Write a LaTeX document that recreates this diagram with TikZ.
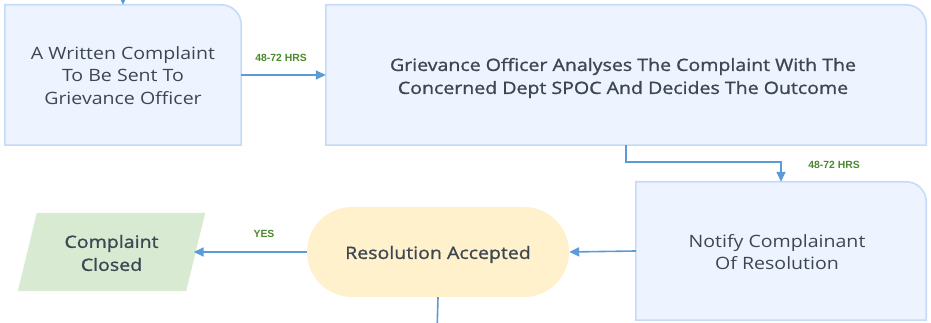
\documentclass[tikz,border=0pt]{standalone}
\usepackage{fontspec}
\setmainfont[FakeStretch=1.15]{Open Sans}
\newfontfamily\medfont[FakeStretch=1.15,FakeBold=1.2]{Open Sans}
\newfontfamily\lblfont{Liberation Sans}
\usetikzlibrary{arrows.meta,shapes.misc}
\definecolor{boxfill}{HTML}{EEF4FF}
\definecolor{boxline}{HTML}{C5DBF7}
\definecolor{arrcol}{HTML}{5A9BD8}
\definecolor{txtcol}{HTML}{3D4752}
\definecolor{lblcol}{HTML}{4A8A2C}
\definecolor{yelfill}{HTML}{FFF1CC}
\definecolor{grnfill}{HTML}{D9EAD3}
\tikzset{
  x=1pt,y=1pt,
  boxnode/.style={minimum width=#1, inner sep=0pt},
  boxshape/.style={fill=boxfill, draw=boxline, line width=1.6pt},
  boxtext/.style={text=txtcol, align=center, font=\fontsize{17}{22.5}\selectfont},
  medtext/.style={text=txtcol, align=center, font=\medfont\fontsize{17}{23}\selectfont},
  arr/.style={draw=arrcol, line width=1.6pt, -{Triangle[length=10pt,width=9pt]}},
  plain/.style={draw=arrcol, line width=1.6pt},
  lbl/.style={text=lblcol, font=\lblfont\bfseries\fontsize{10.4}{12}\selectfont},
}
\begin{document}
\begin{tikzpicture}
\useasboundingbox (0,0) rectangle (931,323);
% box 1
\node[boxnode=236pt, minimum height=140pt] (b1) at (123,248) {};
\path[boxshape] (b1.south west) -- (b1.north west) -- ([xshift=-20pt]b1.north east) arc[start angle=90,end angle=0,radius=20pt] -- (b1.south east) -- cycle;
\node[boxtext] at ([yshift=-0.5pt]b1.center) {A Written Complaint\\To Be Sent To\\Grievance Officer};
% box 2
\node[boxnode=600pt, minimum height=140pt] (b2) at (626,248) {};
\path[boxshape] (b2.south west) -- (b2.north west) -- ([xshift=-20pt]b2.north east) arc[start angle=90,end angle=0,radius=20pt] -- (b2.south east) -- cycle;
\node[medtext] at ([xshift=-3pt,yshift=-3pt]b2.center) {Grievance Officer Analyses The Complaint With The\\Concerned Dept SPOC And Decides The Outcome};
% box 3
\node[boxnode=290pt, minimum height=138pt] (b3) at (781,72) {};
\path[boxshape] (b3.south west) -- (b3.north west) -- ([xshift=-20pt]b3.north east) arc[start angle=90,end angle=0,radius=20pt] -- (b3.south east) -- cycle;
\node[boxtext] at ([xshift=-4pt,yshift=-1pt]b3.center) {Notify Complainant\\Of Resolution};
% stadium
\node[rounded rectangle, fill=yelfill, minimum width=262pt, minimum height=90pt, inner sep=0pt] (st) at (438,71) {};
\node[medtext] at ([yshift=-2.5pt]st.center) {Resolution Accepted};
% parallelogram
\node[minimum width=168pt, minimum height=78pt, inner sep=0pt] (pc) at (111.5,71) {};
\path[fill=grnfill] ([xshift=-9.5pt]pc.south west) -- ([xshift=9.5pt]pc.north west) -- ([xshift=9.5pt]pc.north east) -- ([xshift=-9.5pt]pc.south east) -- cycle;
\node[medtext] at ([yshift=-1pt]pc.center) {Complaint\\Closed};
% connectors
\coordinate (topin) at (123,340);
\coordinate (botout) at (437,-10);
\draw[arr] (topin) -- (b1.north);
\draw[arr] (b1.east) -- (b2.west);
\node[lbl] at (281,265) {48-72 HRS};
\draw[arr] (b2.south) -- ++(0,-17) -| (b3.north);
\node[lbl] at (834,158) {48-72 HRS};
\draw[arr] (b3.west) -- (st.east);
\draw[arr] (st.west) -- ([xshift=-2pt]pc.east);
\node[lbl] at (264,89) {YES};
\draw[plain] (st.south) -- (botout);
\end{tikzpicture}
\end{document}
